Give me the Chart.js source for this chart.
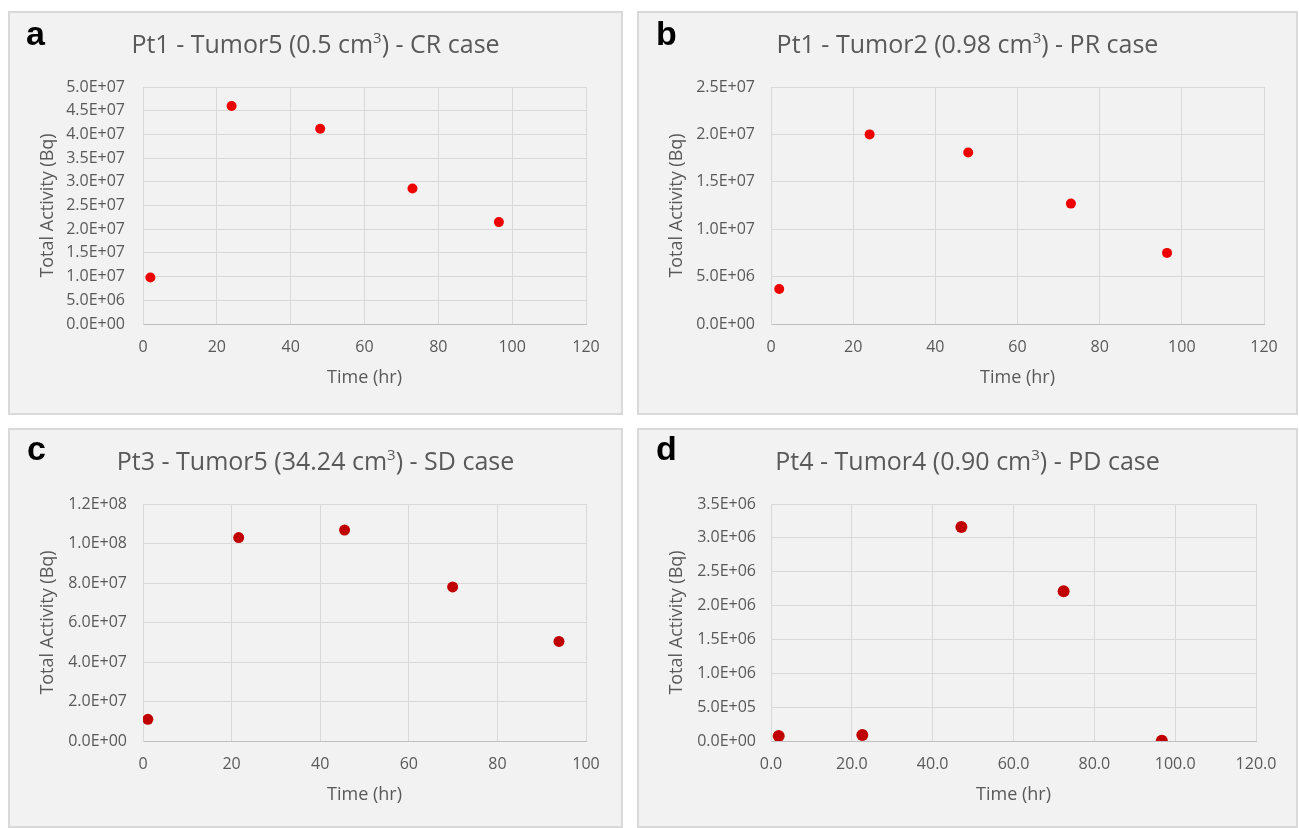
<!DOCTYPE html>
<html>
<head>
<meta charset="utf-8">
<script src="https://cdn.jsdelivr.net/npm/chart.js@4.4.1/dist/chart.umd.min.js"></script>
<style>
  html, body { margin: 0; padding: 0; background: #fff; }
  body { width: 1299px; height: 828px; position: relative; overflow: hidden; font-family: "Open Sans", sans-serif; }
  .panel { position: absolute; background: #f2f2f2; border: 2px solid #d9d9d9; box-sizing: border-box; }
  .panel canvas { position: absolute; left: 0; top: 0; }
  .letter { position: absolute; font: bold 34px "Liberation Sans", Arial, sans-serif; line-height: 34px; color: #000; }
  .title { position: absolute; left: 0; right: 0; text-align: center; font-size: 25px; line-height: 25px; color: #595959; white-space: nowrap; }
  .title sup { font-size: 15px; line-height: 0; vertical-align: 10px; }
</style>
</head>
<body>

<div class="panel" id="pa" style="left:8px;top:11px;width:615px;height:404px;">
  <canvas id="ca" width="611" height="400"></canvas>
  <div class="letter" style="left:16px;top:3px;">a</div>
  <div class="title" style="top:18px;">Pt1 - Tumor5 (0.5 cm<sup>3</sup>) - CR case</div>
</div>
<div class="panel" id="pb" style="left:637px;top:11px;width:661px;height:404px;">
  <canvas id="cb" width="657" height="400"></canvas>
  <div class="letter" style="left:17px;top:3px;">b</div>
  <div class="title" style="top:18px;">Pt1 - Tumor2 (0.98 cm<sup>3</sup>) - PR case</div>
</div>
<div class="panel" id="pc" style="left:8px;top:428px;width:615px;height:400px;">
  <canvas id="cc" width="611" height="396"></canvas>
  <div class="letter" style="left:17px;top:1px;">c</div>
  <div class="title" style="top:18px;">Pt3 - Tumor5 (34.24 cm<sup>3</sup>) - SD case</div>
</div>
<div class="panel" id="pd" style="left:637px;top:428px;width:661px;height:400px;">
  <canvas id="cd" width="657" height="396"></canvas>
  <div class="letter" style="left:17px;top:1px;">d</div>
  <div class="title" style="top:18px;">Pt4 - Tumor4 (0.90 cm<sup>3</sup>) - PD case</div>
</div>

<script>
// ---------- Data ----------
const timeA = [2, 24, 48, 73, 96.4];
const activityA = [9.8e6, 4.6e7, 4.12e7, 2.86e7, 2.15e7];

const timeB = [2, 24, 48, 73, 96.4];
const activityB = [3.7e6, 2.0e7, 1.81e7, 1.27e7, 7.5e6];

const timeC = [1.1, 21.6, 45.5, 69.9, 93.9];
const activityC = [1.1e7, 1.03e8, 1.068e8, 7.8e7, 5.04e7];

const timeD = [1.9, 22.6, 47.1, 72.4, 96.7];
const activityD = [7.5e4, 9e4, 3.16e6, 2.21e6, 5e3];

const xTitle = 'Time (hr)';
const yTitle = 'Total Activity (Bq)';

// ---------- Helpers ----------
function sciLabel(v) {
  const [m, e] = Number(v).toExponential(1).split('e');
  const sign = e[0] === '-' ? '-' : '+';
  const digits = e.replace(/[+-]/, '').padStart(2, '0');
  return m + 'E' + sign + digits;
}

const textColor = '#595959';
const gridColor = '#d9d9d9';

function makeChart(id, xs, ys, opt) {
  const pts = xs.map((x, i) => ({ x: x, y: ys[i] }));
  return new Chart(document.getElementById(id), {
    type: 'scatter',
    data: {
      datasets: [{
        data: pts,
        backgroundColor: opt.color,
        borderWidth: 0,
        pointRadius: opt.radius,
      }]
    },
    options: {
      responsive: false,
      animation: false,
      layout: { padding: { top: 74, left: 0, right: opt.padRight, bottom: 0 } },
      plugins: { legend: { display: false }, tooltip: { enabled: false } },
      scales: {
        x: {
          type: 'linear',
          min: 0, max: opt.xMax,
          ticks: {
            stepSize: 20,
            color: textColor,
            font: { family: 'Open Sans', size: 16 },
            padding: 14,
            maxRotation: 0,
            callback: opt.xFmt || (v => String(v)),
          },
          grid: { color: gridColor, drawTicks: false },
          border: { color: '#bfbfbf' },
          title: {
            display: true, text: xTitle, color: textColor,
            font: { family: 'Open Sans', size: 18 },
            padding: { top: 0, bottom: opt.xTitlePad },
          },
          afterFit: s => { s.height = opt.xHeight; },
        },
        y: {
          type: 'linear',
          min: 0, max: opt.yMax,
          ticks: {
            stepSize: opt.yStep,
            color: textColor,
            font: { family: 'Open Sans', size: 16 },
            padding: opt.yTickPad,
            callback: v => sciLabel(v),
          },
          grid: { color: gridColor, drawTicks: false },
          border: { color: gridColor },
          title: {
            display: true, text: yTitle, color: textColor,
            font: { family: 'Open Sans', size: 18 },
            padding: { top: 27, bottom: 0 },
          },
          afterFit: s => { s.width = opt.yWidth; },
        }
      }
    }
  });
}

makeChart('ca', timeA, activityA, {
  color: '#ee0000', radius: 5, xMax: 120, yMax: 5e7, yStep: 5e6,
  padRight: 35, yWidth: 133, xHeight: 89, xTitlePad: 24, yTickPad: 18,
});
makeChart('cb', timeB, activityB, {
  color: '#ee0000', radius: 5, xMax: 120, yMax: 2.5e7, yStep: 5e6,
  padRight: 32, yWidth: 132, xHeight: 89, xTitlePad: 24, yTickPad: 16,
});
makeChart('cc', timeC, activityC, {
  color: '#c00000', radius: 5.5, xMax: 100, yMax: 1.2e8, yStep: 2e7,
  padRight: 35, yWidth: 133, xHeight: 85, xTitlePad: 20, yTickPad: 16,
});
makeChart('cd', timeD, activityD, {
  color: '#c00000', radius: 6, xMax: 120, yMax: 3.5e6, yStep: 5e5,
  padRight: 40, yWidth: 132, xHeight: 85, xTitlePad: 20, yTickPad: 15,
  xFmt: v => Number(v).toFixed(1),
});
</script>
</body>
</html>
